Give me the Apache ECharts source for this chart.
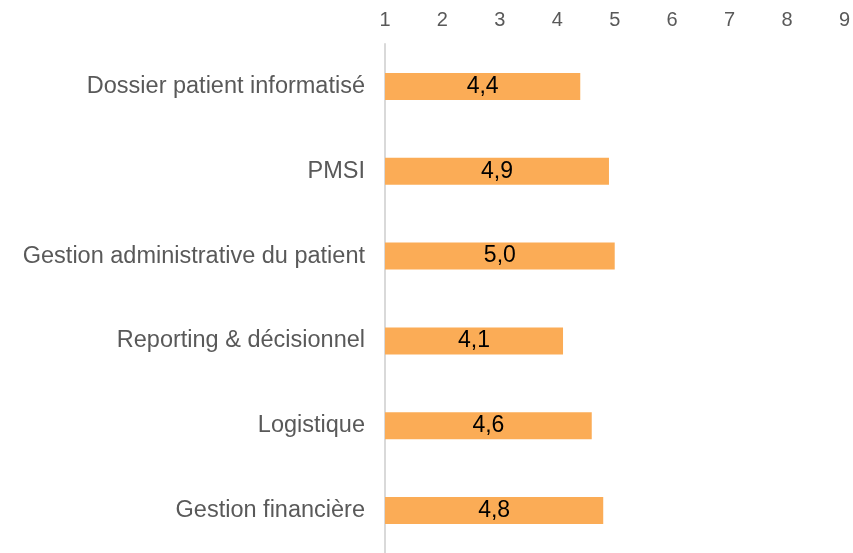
<!DOCTYPE html>
<html>
<head>
  <meta charset="utf-8">
  <script src="https://cdn.jsdelivr.net/npm/echarts@6.0.0/dist/echarts.min.js"></script>
  <style>
    html, body { margin: 0; padding: 0; background: #fff; }
    #chart { width: 853px; height: 553px; }
  </style>
</head>
<body>
  <div id="chart"></div>
  <script>
    // données
    var categories = ['Dossier patient informatisé', 'PMSI', 'Gestion administrative du patient',
      'Reporting & décisionnel', 'Logistique', 'Gestion financière'];
    var scores = [4.4, 4.9, 5.0, 4.1, 4.6, 4.8];

    var chart = echarts.init(document.getElementById('chart'));

    var option = {
      animation: false,
      grid: { left: 385, right: 6, top: 44, height: 512 },
      xAxis: {
        type: 'value',
        position: 'top',
        min: 1,
        max: 9,
        interval: 1,
        axisLine: { show: false },
        axisTick: { show: false },
        splitLine: { show: false },
        axisLabel: {
          color: '#595959',
          fontSize: 20,
          fontFamily: 'Liberation Sans, Arial',
          margin: 14
        }
      },
      yAxis: {
        type: 'category',
        inverse: true,
        data: categories,
        axisLine: { show: true, lineStyle: { color: '#d9d9d9', width: 2 } },
        axisTick: { show: false },
        axisLabel: {
          color: '#595959',
          fontSize: 23.5,
          fontFamily: 'Liberation Sans, Arial',
          margin: 20
        }
      },
      series: [{
        type: 'bar',
        data: scores,
        barWidth: 27,
        itemStyle: { color: '#fbac56' },
        label: {
          show: true,
          position: 'inside',
          color: '#000',
          fontSize: 23,
          fontFamily: 'Liberation Sans, Arial',
          formatter: function (p) { return p.value.toFixed(1).replace('.', ','); }
        }
      }]
    };

    chart.setOption(option);
  </script>
</body>
</html>
